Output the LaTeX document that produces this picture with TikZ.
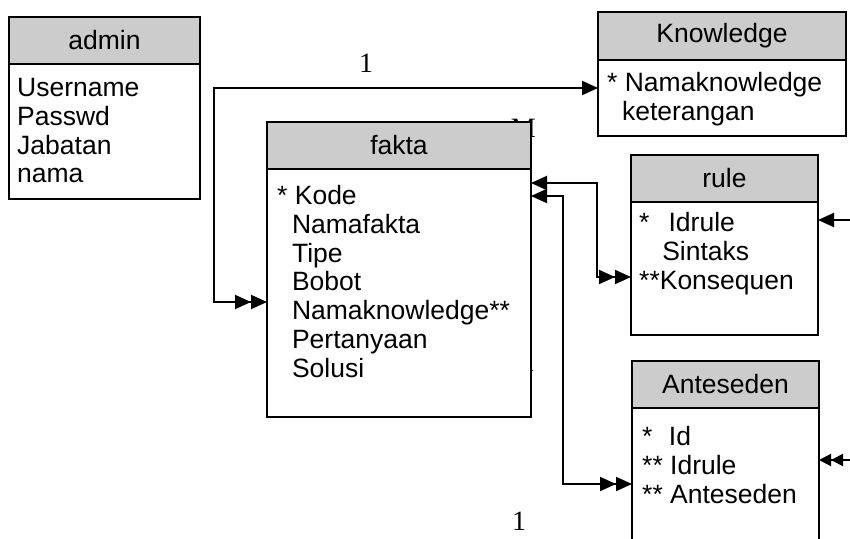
\documentclass[tikz,border=0pt]{standalone}
\usepackage{fontspec}
\setmainfont{Liberation Sans}
\newfontfamily\cardfont{Liberation Serif}
\usepackage{tikz}
\usetikzlibrary{positioning,arrows.meta,calc}
\definecolor{hdgray}{HTML}{CCCCCC}
\newcommand{\fldind}{\hspace*{0.56em}}

\begin{document}
\begin{tikzpicture}[
  x=1pt, y=-1pt,
  font=\fontsize{26.5}{28.8}\selectfont,
  >={Triangle[length=16pt,width=14pt]},
  head/.style={draw, line width=2pt, fill=hdgray, anchor=north west,
               inner sep=0pt, outer sep=0pt},
  tbl/.style={draw, line width=2pt, fill=white, anchor=north west,
              inner sep=0pt, outer sep=0pt},
  fld/.style={anchor=north west, align=left, inner sep=0pt},
  card/.style={font=\cardfont\fontsize{28}{28}\selectfont, inner sep=0pt},
  lk/.style={line width=2pt},
]
\useasboundingbox (0,0) rectangle (850,538);
\clip (0,0) rectangle (850,538);
% cardinalities partly hidden under fakta
\node[card, anchor=north east] (cardm) at (536,119) {M};
\node[card, anchor=north east] (cardmid) at (535,353) {1};
% admin
\node[head, minimum width=191pt, minimum height=47pt] (adminh) at (9,17) {admin};
\node[tbl, minimum width=191pt, minimum height=135pt] (admin) at (adminh.south west) {};
\node[fld] (adminf) at (17,78) {Username\\Passwd\\Jabatan\\nama};
% Knowledge
\node[head, minimum width=248pt, minimum height=48pt] (knowh) at (598,12) {Knowledge};
\node[tbl, minimum width=248pt, minimum height=76pt] (know) at (knowh.south west) {};
\node[fld] (knowf) at (607,72) {* Namaknowledge\\\fldind keterangan};
% fakta
\node[head, minimum width=264pt, minimum height=47pt] (faktah) at (267,122) {fakta};
\node[tbl, minimum width=264pt, minimum height=248pt] (fakta) at (faktah.south west) {};
\node[fld] (faktaf) at (277,185) {* Kode\\\fldind Namafakta\\\fldind Tipe\\
  \fldind Bobot\\\fldind Namaknowledge**\\\fldind Pertanyaan\\\fldind Solusi};
% rule
\node[head, minimum width=187pt, minimum height=47pt] (ruleh) at (631,155) {rule};
\node[tbl, minimum width=187pt, minimum height=133pt] (rule) at (ruleh.south west) {};
\node[fld] (rulef) at (639,212) {*\hspace{0.72em}Idrule\\\hspace*{0.87em}Sintaks\\**Konsequen};
% Anteseden
\node[head, minimum width=187pt, minimum height=47pt] (anth) at (632,361) {Anteseden};
\node[tbl, minimum width=187pt, minimum height=160pt] (ant) at (anth.south west) {};
\node[fld] (antf) at (642,426) {*\hspace{0.62em}Id\\** Idrule\\** Anteseden};
% relations
\draw[lk, <<->] ([yshift=-9pt]fakta.west) -- ++(-53,0) |- ([yshift=10pt]know.west);
\draw[lk, <->>] ([yshift=110pt]fakta.east) -- ++(66,0) |- ([yshift=-8.5pt]rule.west);
\draw[lk, <->>] ([yshift=97pt]fakta.east) -- ++(32,0) |- ([yshift=4pt]ant.west);
\coordinate (rulein) at (852,220);
\coordinate (antin) at (852,460);
\draw[lk, ->] (rulein) -- (rulein -| rule.east);
\draw[lk, >={Triangle[length=12pt,width=12pt]}, ->>] (antin) -- (antin -| ant.east);
% cardinalities
\node[card] (cardtop) at (366,63) {1};
\node[card, anchor=north] (cardbot) at (519,512) {1};
\end{tikzpicture}
\end{document}
